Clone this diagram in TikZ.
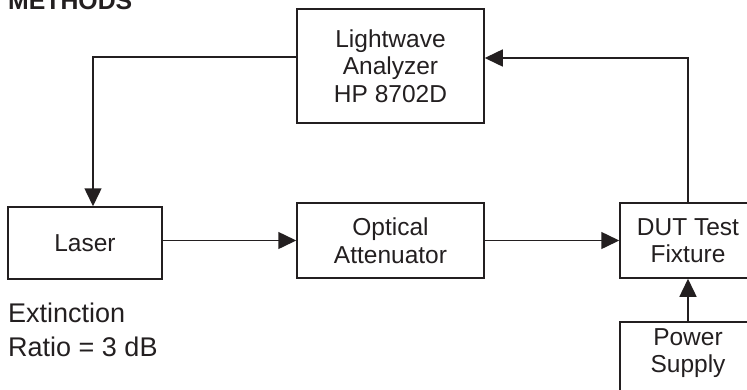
\documentclass[tikz,border=0pt]{standalone}
\usepackage{fontspec}
\setmainfont{Liberation Sans}
\usetikzlibrary{arrows.meta,calc}
\definecolor{ink}{HTML}{231F20}
\begin{document}
\begin{tikzpicture}[x=1pt,y=-1pt,
  boxnode/.style={draw=ink, line width=1.5pt, text=ink, inner sep=0pt, align=center,
     font=\fontsize{24.5}{27.5}\selectfont},
  arr/.style={draw=ink, line width=1.5pt, -{Triangle[length=18pt,width=17pt]}},
  plaintext/.style={text=ink, inner sep=0pt}]
\useasboundingbox (0,0) rectangle (747,389);
\clip (0,0) rectangle (747,389);
\node[plaintext, anchor=base west, font=\fontsize{24.8}{28}\selectfont\bfseries] (title) at (8,9) {METHODS};
\node[boxnode, minimum width=187pt, minimum height=114pt] (lw) at (390.5,66) {Lightwave\\Analyzer\\HP 8702D};
\node[boxnode, minimum width=154pt, minimum height=72pt] (laser) at (85,243) {Laser};
\node[boxnode, minimum width=187pt, minimum height=75pt] (opt) at (390.5,240.5) {Optical\\Attenuator};
\node[boxnode, minimum width=136pt, minimum height=75pt] (dut) at (688,240.5) {DUT Test\\Fixture};
\node[boxnode, minimum width=136pt, minimum height=90pt, anchor=north] (pow) at (688,321) {};
\node[plaintext, align=center, font=\fontsize{24.5}{27.5}\selectfont] (powtext) at ($(pow.north)+(0,32)$) {Power\\Supply};
\node[plaintext, align=left, anchor=west, font=\fontsize{27}{34}\selectfont] (ext) at (8,330) {Extinction\\Ratio = 3 dB};
\draw[arr] ($(lw.west)+(0,-9)$) -| ($(laser.north)+(8,0)$);
\draw[arr] (dut.north) |- ($(lw.east)+(0,-8)$);
\draw[arr] (laser.east |- opt.west) -- (opt.west);
\draw[arr] (opt.east) -- (dut.west);
\draw[arr] (pow.north) -- (dut.south);
\end{tikzpicture}
\end{document}
